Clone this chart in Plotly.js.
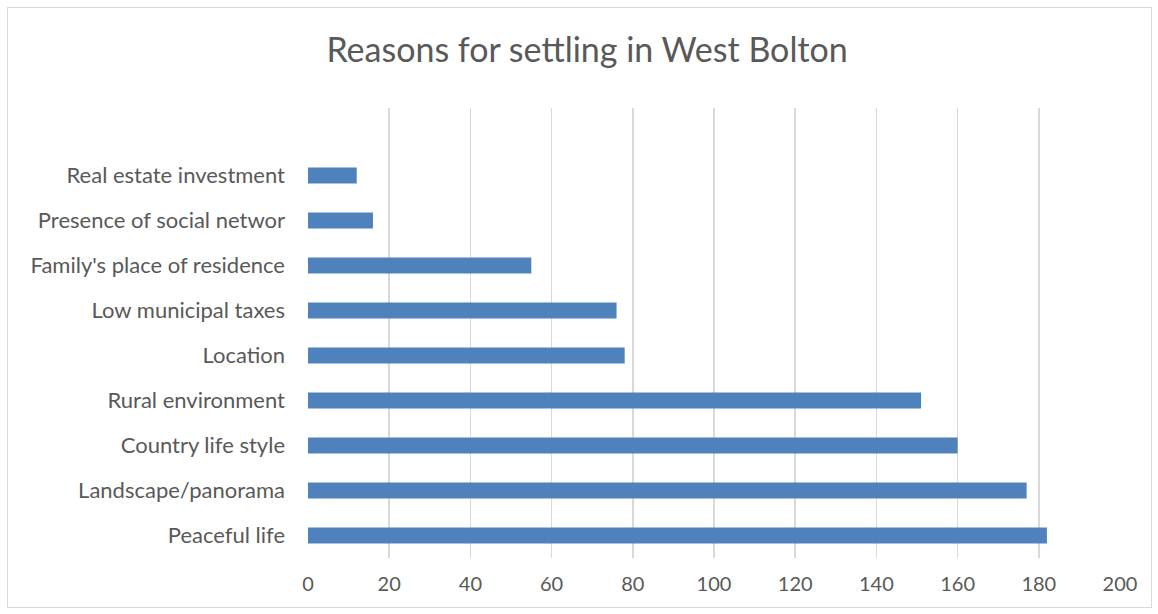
<!DOCTYPE html>
<html>
<head>
<meta charset="utf-8">
<script src="https://cdn.plot.ly/plotly-3.0.1.min.js"></script>
<style>
body{margin:0;padding:0;background:#fff;}
#chart{width:1158px;height:614px;position:relative;}
#frame{position:absolute;left:7px;top:7px;width:1143px;height:599px;border:1px solid #d9d9d9;pointer-events:none;}
</style>
</head>
<body>
<div style="position:relative;width:1158px;height:614px;">
<div id="chart"></div>
<div id="frame"></div>
</div>
<script>
const categories = ["Peaceful life","Landscape/panorama","Country life style","Rural environment","Location","Low municipal taxes","Family's place of residence","Presence of social networ","Real estate investment"];
const values = [182, 177, 160, 151, 78, 76, 55, 16, 12];
const xTicks = [0,20,40,60,80,100,120,140,160,180,200];

const trace = {
  type: 'bar',
  orientation: 'h',
  x: values,
  y: categories.map((c,i)=>i),
  width: 0.36,
  marker: {color: '#4f81bd', line: {width: 0}},
  hoverinfo: 'x+text',
  text: categories,
  textposition: 'none'
};

const layout = {
  width: 1158,
  height: 614,
  margin: {l: 308, r: 38, t: 108, b: 56},
  paper_bgcolor: '#ffffff',
  plot_bgcolor: '#ffffff',
  showlegend: false,
  bargap: 0.64,
  title: {
    text: 'Reasons for settling in West Bolton',
    font: {family: 'Lato, "Open Sans", sans-serif', size: 34, color: '#595959'},
    x: 0.507, xanchor: 'center',
    y: 0.918, yanchor: 'middle'
  },
  xaxis: {
    range: [0, 200],
    tickvals: xTicks,
    ticktext: xTicks.map(String),
    showgrid: true,
    gridcolor: '#d9d9d9',
    gridwidth: 1.5,
    zeroline: false,
    showline: false,
    ticks: '',
    tickfont: {family: 'Lato, "Open Sans", sans-serif', size: 20, color: '#595959'},
    ticklabelstandoff: 12,
    fixedrange: true
  },
  yaxis: {
    range: [-0.5, 9.5],
    tickvals: categories.map((c,i)=>i),
    ticktext: categories,
    showgrid: false,
    zeroline: false,
    showline: false,
    ticks: '',
    ticklabelstandoff: 22,
    tickfont: {family: 'Lato, "Open Sans", sans-serif', size: 22, color: '#595959'},
    fixedrange: true
  }
};

Plotly.newPlot('chart', [trace], layout, {displayModeBar: false, staticPlot: true});
</script>
</body>
</html>
